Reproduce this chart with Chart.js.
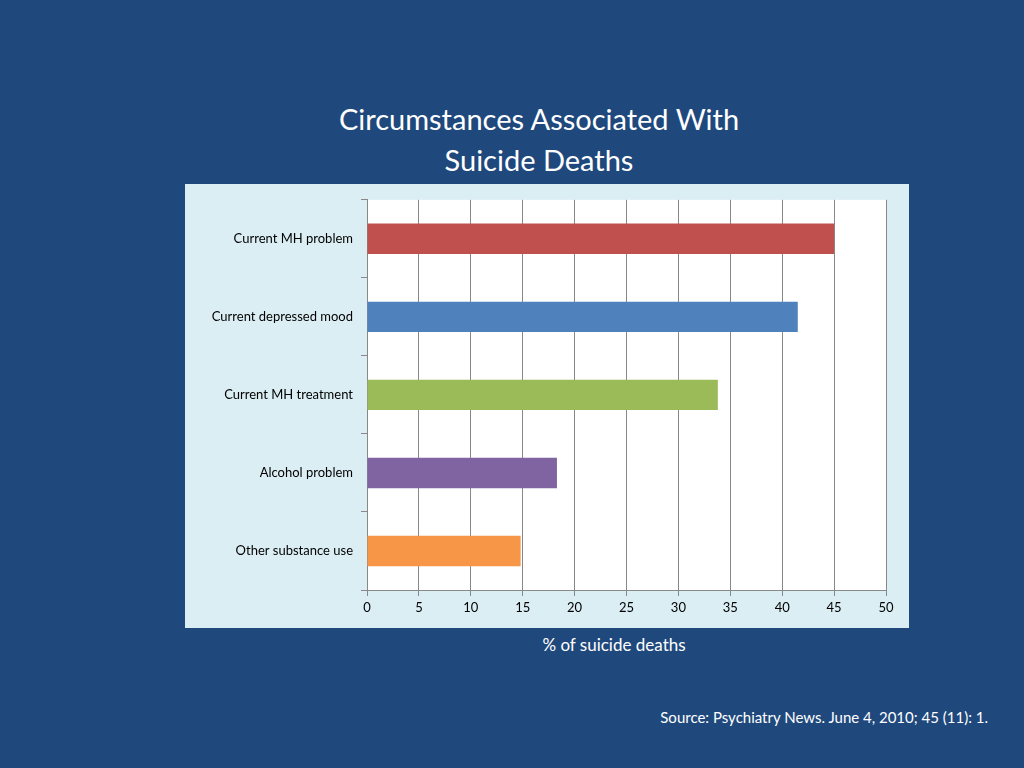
<!DOCTYPE html>
<html><head><meta charset="utf-8">
<script src="https://cdn.jsdelivr.net/npm/chart.js@4"></script>
<style>
body{margin:0;width:1024px;height:768px;background:#1F497D;position:relative;overflow:hidden;font-family:Lato,"Open Sans",sans-serif;color:#fff}
#title{position:absolute;left:0;width:1078px;top:98px;text-align:center;font-size:29px;line-height:41px}
#panel{position:absolute;left:185px;top:184px;width:724px;height:444px;background:#DBEEF4}
#xt{position:absolute;left:0;width:1228px;top:634px;text-align:center;font-size:17px}
#src{position:absolute;right:36px;top:708px;font-size:15px}
</style></head><body>
<div id="title">Circumstances Associated With<br>Suicide Deaths</div>
<div id="panel"><canvas id="c" width="724" height="444"></canvas></div>
<div id="xt">% of suicide deaths</div>
<div id="src">Source: Psychiatry News. June 4, 2010; 45 (11): 1.</div>
<script>
const categories=["Current MH problem","Current depressed mood","Current MH treatment","Alcohol problem","Other substance use"];
const values=[45,41.5,33.8,18.3,14.8];
const colors=["#C0504D","#4F81BD","#9BBB59","#8064A2","#F79646"];
const xTicks=[0,5,10,15,20,25,30,35,40,45,50];
new Chart(document.getElementById('c'),{
type:'bar',
data:{labels:categories,datasets:[{data:values,backgroundColor:colors,barPercentage:0.39,categoryPercentage:1}]},
options:{indexAxis:'y',responsive:false,animation:false,
layout:{padding:{top:14,right:23,left:0,bottom:0}},
plugins:{legend:{display:false},tooltip:{enabled:false}},
scales:{
x:{min:0,max:50,afterBuildTicks:s=>{s.ticks=xTicks.map(v=>({value:v}));},
 afterFit:s=>{s.height=38;},
 grid:{color:'#888',drawTicks:true,tickLength:6},border:{color:'#888'},
 ticks:{color:'#000',font:{family:'Lato',size:13},padding:4}},
y:{afterFit:s=>{s.width=182;},
 grid:{display:true,drawOnChartArea:false,offset:true,color:'#888',tickLength:6},border:{color:'#888'},
 ticks:{color:'#000',font:{family:'Lato',size:13},padding:8}}
}},
plugins:[{id:'bg',beforeDraw(c){const a=c.chartArea,x=c.ctx;x.save();x.fillStyle='#fff';x.fillRect(a.left,a.top,a.right-a.left,a.bottom-a.top);x.restore();}}]
});
</script>
</body></html>
